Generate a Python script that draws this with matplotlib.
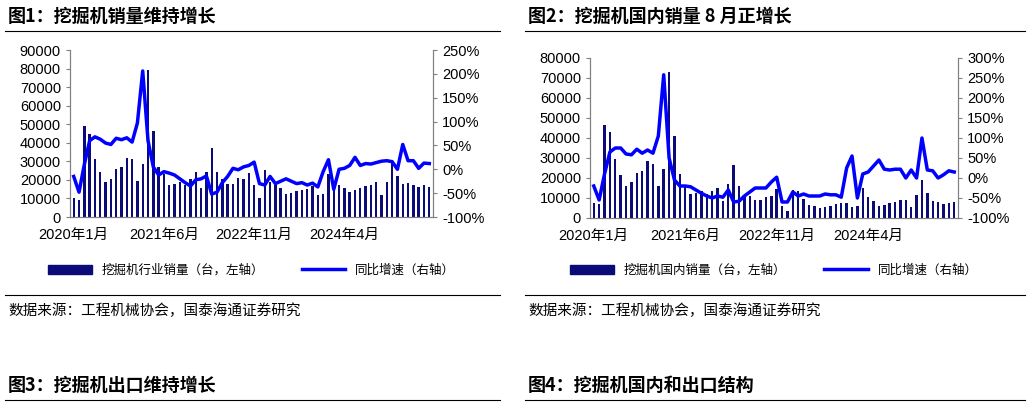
import matplotlib.pyplot as plt
import numpy as np

plt.rcParams['font.family'] = ['Liberation Sans', 'Noto Sans CJK SC']

months = ['2020年1月', '2021年6月', '2022年11月', '2024年4月']
month_pos = [0, 17, 34, 51]

# 图1: 挖掘机行业销量 (台) 和同比
total_sales = [10000, 9000, 49000, 45000, 31500, 24500, 19000, 20500, 26000, 27000, 32000, 31500,
               19500, 28300, 79000, 46500, 27000, 23000, 17300, 18000, 19000, 17000, 20500, 24000,
               15500, 24000, 37000, 24500, 20700, 18000, 18000, 21000, 20500, 23500, 17000, 10500,
               25500, 19000, 17000, 15500, 12500, 13000, 14000, 14500, 15000, 16500, 12000, 12500,
               23000, 18500, 17500, 15500, 13500, 14500, 15500, 16500, 17500, 19000, 12000, 19000,
               30000, 22000, 18000, 18500, 17000, 16000, 17000, 16000]
total_yoy = [-15, -48, 10, 60, 68, 63, 55, 52, 65, 62, 66, 57,
             97, 206, 60, 5, -12, -5, -8, -12, -20, -28, -35, -22,
             -20, -14, -52, -48, -28, -15, 2, -1, 5, 8, 15, -30,
             -33, -15, -30, -25, -20, -25, -30, -28, -33, -29, -37, -5,
             20, -42, 0, 2, 8, 25, 8, 12, 11, 14, 17, 18,
             16, 0, 52, 18, 18, 2, 13, 12]

# 图2: 挖掘机国内销量 (台) 和同比
dom_sales = [7500, 7000, 46500, 43000, 29500, 21500, 16000, 18000, 22500, 23500, 28500, 27000,
             16000, 24500, 73000, 41000, 22000, 16000, 12000, 12500, 13500, 12000, 13500, 15000,
             8500, 17000, 26500, 16000, 11500, 11000, 9000, 9000, 10500, 11000, 14500, 6000,
             3500, 14000, 13500, 9500, 6500, 6000, 5000, 5500, 6000, 7000, 7500, 7500,
             5500, 6000, 15000, 10500, 8500, 6000, 6500, 7500, 8000, 9000, 9000, 5500,
             11500, 19000, 12500, 8500, 8000, 7000, 7500, 8000]
dom_yoy = [-20, -55, 10, 65, 75, 75, 60, 58, 72, 62, 70, 62,
           105, 258, 50, -5, -20, -20, -22, -30, -38, -45, -50, -45,
           -48, -30, -60, -58, -45, -35, -25, -25, -25, -10, 2, -60,
           -60, -35, -45, -40, -45, -45, -45, -40, -42, -42, -48, 25,
           55, -50, 10, 15, 30, 45, 22, 20, 22, 22, 0, 20,
           0, 100, 20, 18, 0, 8, 18, 15]

BAR = '#0b0b78'
LINE = '#0000ff'
GRAY = '#808080'

fig = plt.figure(figsize=(10.32, 4.13), dpi=100)


def panel(rect, sales, yoy, ymax, ystep, rlim, rstep, bar_label):
    ax = fig.add_axes(rect)
    x = np.arange(len(sales))
    ax.bar(x, sales, width=0.45, color=BAR)
    ax.set_ylim(0, ymax)
    ax.set_yticks(np.arange(0, ymax + 1, ystep))
    ax.set_xlim(-0.7, len(sales) - 0.3)
    ax.set_xticks(month_pos)
    ax.set_xticklabels(months)
    ax2 = ax.twinx()
    ax2.plot(x, yoy, color=LINE, lw=2.5)
    ax2.set_ylim(*rlim)
    ticks = np.arange(rlim[0], rlim[1] + 1, rstep)
    ax2.set_yticks(ticks)
    ax2.set_yticklabels([f'{t}%' for t in ticks])
    for a in (ax, ax2):
        a.spines['top'].set_visible(False)
        for s in ('left', 'right', 'bottom'):
            a.spines[s].set_color(GRAY)
        a.tick_params(labelsize=10.5, color=GRAY, length=3)
    ax.tick_params(axis='x', length=0, pad=8)
    h1 = plt.Rectangle((0, 0), 1, 1, color=BAR)
    h2, = ax2.plot([], [], color=LINE, lw=2.5)
    fig.legend([h1, h2], [bar_label, '同比增速（右轴）'], loc='center',
               bbox_to_anchor=(rect[0] + rect[2] / 2, 1 - 270 / 413), ncol=2, frameon=False,
               fontsize=9, handlelength=3.5, columnspacing=3,
               prop={'family': ['Noto Sans CJK SC'], 'size': 9})


panel([70 / 1032, 1 - 217 / 413, 363 / 1032, 167 / 413], total_sales, total_yoy,
      90000, 10000, (-100, 250), 50, '挖掘机行业销量（台，左轴）')
panel([590 / 1032, 1 - 218 / 413, 368 / 1032, 160 / 413], dom_sales, dom_yoy,
      80000, 10000, (-100, 300), 50, '挖掘机国内销量（台，左轴）')

# titles, source lines and separators
titles = [(8, 16, '图1：挖掘机销量维持增长'), (528, 16, '图2：挖掘机国内销量 8 月正增长'),
          (8, 385, '图3：挖掘机出口维持增长'), (528, 385, '图4：挖掘机国内和出口结构')]
for px, py, t in titles:
    fig.text(px / 1032, 1 - py / 413, t, fontsize=13, fontweight='bold', va='center',
             family=['Noto Sans CJK SC'])
for x0, x1 in ((5, 500), (525, 1025)):
    for py in (31, 295, 400):
        fig.add_artist(plt.Line2D([x0 / 1032, x1 / 1032], [1 - py / 413] * 2, color='black', lw=0.8))
    fig.text((x0 + 3) / 1032, 1 - 311 / 413, '数据来源：工程机械协会，国泰海通证券研究', fontsize=10.5,
             va='center', family=['Noto Sans CJK SC'])

fig.savefig('out.png', dpi=100)
